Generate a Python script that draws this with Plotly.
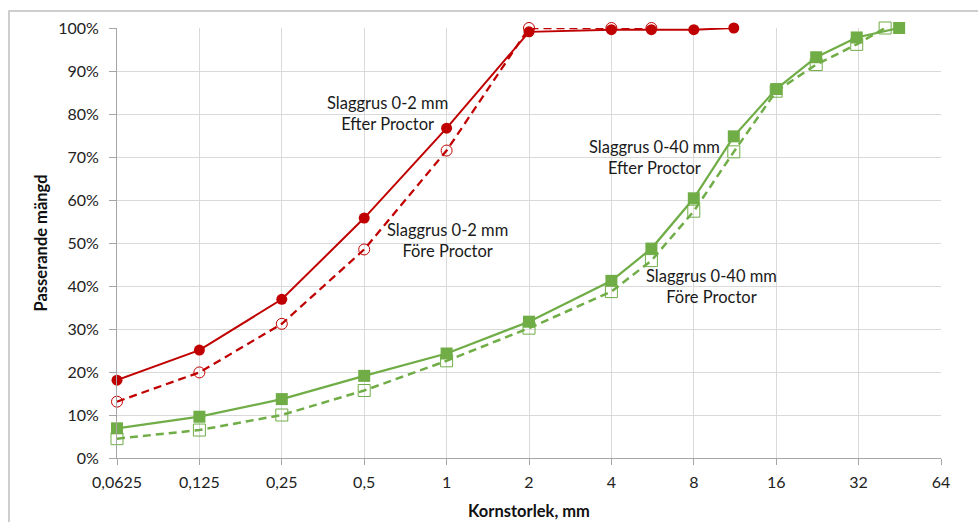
import plotly.graph_objects as go

# Data
red_x_after = [0.0625, 0.125, 0.25, 0.5, 1, 2, 4, 5.6, 8, 11.2]
red_after = [18.1, 25.1, 36.9, 55.8, 76.7, 99.1, 99.6, 99.6, 99.6, 100]
red_x_before = [0.0625, 0.125, 0.25, 0.5, 1, 2, 4, 5.6]
red_before = [13.1, 19.9, 31.2, 48.5, 71.5, 100, 100, 100]

green_x_after = [0.0625, 0.125, 0.25, 0.5, 1, 2, 4, 5.6, 8, 11.2, 16, 22.4, 31.5, 45]
green_after = [6.9, 9.6, 13.7, 19.1, 24.3, 31.7, 41.2, 48.7, 60.4, 74.8, 85.8, 93.2, 97.8, 100]
green_x_before = [0.0625, 0.125, 0.25, 0.5, 1, 2, 4, 5.6, 8, 11.2, 16, 22.4, 31.5, 40]
green_before = [4.5, 6.5, 10.0, 15.7, 22.6, 30.2, 38.7, 45.9, 57.4, 71.2, 85.3, 91.5, 96.2, 100]

x_ticks = [0.0625, 0.125, 0.25, 0.5, 1, 2, 4, 8, 16, 32, 64]
x_tick_labels = ["0,0625", "0,125", "0,25", "0,5", "1", "2", "4", "8", "16", "32", "64"]
y_ticks = [0, 10, 20, 30, 40, 50, 60, 70, 80, 90, 100]
y_tick_labels = [f"{v}%" for v in y_ticks]

RED = "#C00000"
GREEN = "#70AD47"
FONT = "Lato"

fig = go.Figure()

fig.add_trace(go.Scatter(
    x=red_x_before, y=red_before, mode="lines+markers", cliponaxis=False,
    line=dict(color=RED, width=2.25, dash="8px,5px"),
    marker=dict(symbol="circle-open", size=11, color=RED, line=dict(width=1)),
    name="Slaggrus 0-2 mm Före Proctor", showlegend=False))
fig.add_trace(go.Scatter(
    x=red_x_after, y=red_after, mode="lines+markers", cliponaxis=False,
    line=dict(color=RED, width=2),
    marker=dict(symbol="circle", size=11, color=RED),
    name="Slaggrus 0-2 mm Efter Proctor", showlegend=False))
fig.add_trace(go.Scatter(
    x=green_x_before, y=green_before, mode="lines+markers", cliponaxis=False,
    line=dict(color=GREEN, width=2.5, dash="8px,5px"),
    marker=dict(symbol="square-open", size=12, color=GREEN, line=dict(width=1)),
    name="Slaggrus 0-40 mm Före Proctor", showlegend=False))
fig.add_trace(go.Scatter(
    x=green_x_after, y=green_after, mode="lines+markers", cliponaxis=False,
    line=dict(color=GREEN, width=2.25),
    marker=dict(symbol="square", size=12, color=GREEN),
    name="Slaggrus 0-40 mm Efter Proctor", showlegend=False))

ann_font = dict(family=FONT, size=16.5, color="#1a1a1a")
annotations = [
    dict(x=0.3277, y=0.80, text="Slaggrus 0-2 mm<br>Efter Proctor"),
    dict(x=0.4005, y=0.505, text="Slaggrus 0-2 mm<br>Före Proctor"),
    dict(x=0.6517, y=0.70, text="Slaggrus 0-40 mm<br>Efter Proctor"),
    dict(x=0.722, y=0.398, text="Slaggrus 0-40 mm<br>Före Proctor"),
]
for a in annotations:
    a.update(xref="paper", yref="paper", showarrow=False, font=ann_font,
             xanchor="center", yanchor="middle", align="center",
             bgcolor="rgba(255,255,255,0)")

fig.update_layout(
    width=978, height=522,
    margin=dict(l=117, r=37, t=28, b=64, autoexpand=False),
    paper_bgcolor="white", plot_bgcolor="white",
    font=dict(family=FONT, size=16, color="#222222"),
    annotations=annotations,
    shapes=[dict(type="rect", xref="paper", yref="paper",
                 x0=-0.1311, y0=-0.2, x1=1.2, y1=1.0395,
                 line=dict(color="#BFBFBF", width=1.5), layer="below")],
)

fig.update_xaxes(
    type="log", range=[-1.20412, 1.80618],
    tickvals=x_ticks, ticktext=x_tick_labels,
    showgrid=True, gridcolor="#D9D9D9", gridwidth=1,
    showline=True, linecolor="#A6A6A6", linewidth=1,
    ticks="outside", ticklen=6, tickcolor="#A6A6A6",
    ticklabelstandoff=4, automargin=False,
    tickfont=dict(family=FONT, size=16, color="#222222"),
    title=dict(text="<b>Kornstorlek, mm</b>", font=dict(family=FONT, size=16.5, color="#111111"), standoff=15),
    zeroline=False,
)
fig.update_yaxes(
    range=[0, 100],
    tickvals=y_ticks, ticktext=y_tick_labels,
    showgrid=True, gridcolor="#D9D9D9", gridwidth=1,
    showline=True, linecolor="#A6A6A6", linewidth=1,
    ticks="outside", ticklen=7, tickcolor="#A6A6A6",
    ticklabelstandoff=7, automargin=False,
    tickfont=dict(family=FONT, size=16, color="#222222"),
    title=dict(text="<b>Passerande mängd</b>", font=dict(family=FONT, size=16.5, color="#111111"), standoff=6),
    zeroline=False,
)

fig.write_html("out.html", config={"displayModeBar": False},
               post_script="document.body.style.margin='0';document.body.style.overflow='hidden';")
